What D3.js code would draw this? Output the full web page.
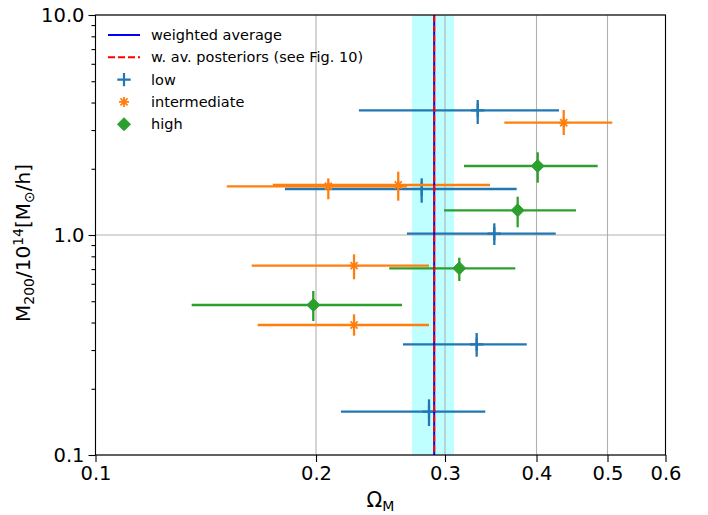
<!DOCTYPE html>
<html>
<head>
<meta charset="utf-8">
<script src="https://cdn.jsdelivr.net/npm/d3@7"></script>
<style>
  html, body { margin: 0; padding: 0; background: #fff; }
  svg { display: block; font-family: "DejaVu Sans", sans-serif; }
</style>
</head>
<body>
<svg id="chart" width="708" height="515"></svg>
<script>
// Omega_M (x) and M200 (y) estimates with asymmetric uncertainties, per richness bin
const lowOmega    = [0.3325, 0.2788, 0.3503, 0.3314, 0.2853];
const lowOmegaLo  = [0.2289, 0.1814, 0.2662, 0.2629, 0.2163];
const lowOmegaHi  = [0.4293, 0.3758, 0.4249, 0.3879, 0.3405];
const lowMass     = [3.688, 1.618, 1.014, 0.3186, 0.1573];
const lowMassLo   = [3.195, 1.402, 0.9006, 0.2798, 0.1355];
const lowMassHi   = [4.108, 1.810, 1.130, 0.3586, 0.1791];

const intOmega    = [0.4357, 0.2079, 0.2590, 0.2254, 0.2254];
const intOmegaLo  = [0.3615, 0.1511, 0.1746, 0.1634, 0.1665];
const intOmegaHi  = [0.5076, 0.2662, 0.3456, 0.2853, 0.2853];
const intMass     = [3.239, 1.665, 1.688, 0.7252, 0.3899];
const intMassLo   = [2.848, 1.453, 1.432, 0.6290, 0.3486];
const intMassHi   = [3.700, 1.810, 1.940, 0.8171, 0.4361];

const highOmega   = [0.4015, 0.3770, 0.3138, 0.1983];
const highOmegaLo = [0.3185, 0.2991, 0.2518, 0.1353];
const highOmegaHi = [0.4848, 0.4528, 0.3742, 0.2621];
const highMass    = [2.059, 1.295, 0.7057, 0.4807];
const highMassLo  = [1.729, 1.084, 0.6179, 0.4065];
const highMassHi  = [2.376, 1.493, 0.7885, 0.5565];

// weighted average of Omega_M and its 1-sigma interval
const weightedAverage = 0.290;
const weightedBand = [0.2705, 0.3086];
const posteriorAverage = 0.290;

const xTicks = [0.1, 0.2, 0.3, 0.4, 0.5, 0.6];
const yTicks = [0.1, 1.0, 10.0];
const yMinorTicks = [0.2, 0.3, 0.4, 0.5, 0.6, 0.7, 0.8, 0.9, 2, 3, 4, 5, 6, 7, 8, 9];

const legendLabels = ["weighted average", "w. av. posteriors (see Fig. 10)", "low", "intermediate", "high"];

const C = { low: "#1f77b4", intermediate: "#ff7f0e", high: "#2ca02c" };

const svg = d3.select("#chart");
const L = 95.5, R = 665.5, T = 15, B = 455;

const x = d3.scaleLog().domain([0.1, 0.6]).range([L, R]);
const y = d3.scaleLog().domain([0.1, 10]).range([B, T]);

// shaded 1-sigma band
svg.append("rect")
  .attr("x", x(weightedBand[0])).attr("y", T)
  .attr("width", x(weightedBand[1]) - x(weightedBand[0]))
  .attr("height", B - T)
  .attr("fill", "#00ffff").attr("fill-opacity", 0.25);

// grid
const grid = svg.append("g").attr("stroke", "#b0b0b0").attr("stroke-width", 1.1);
xTicks.forEach(t => grid.append("line").attr("x1", x(t)).attr("x2", x(t)).attr("y1", T).attr("y2", B));
yTicks.forEach(t => grid.append("line").attr("x1", L).attr("x2", R).attr("y1", y(t)).attr("y2", y(t)));

// markers
function drawMarker(g, kind, cx, cy, color) {
  if (kind === "plus") {
    const s = 6.7;
    g.append("path").attr("d", `M${cx - s},${cy}H${cx + s}M${cx},${cy - s}V${cy + s}`)
      .attr("stroke", color).attr("stroke-width", 2.2).attr("fill", "none");
  } else if (kind === "star") {
    const s = 5;
    let d = "";
    for (let k = 0; k < 4; k++) {
      const a = k * Math.PI / 4;
      const dx = s * Math.cos(a), dy = s * Math.sin(a);
      d += `M${cx - dx},${cy - dy}L${cx + dx},${cy + dy}`;
    }
    g.append("path").attr("d", d).attr("stroke", color).attr("stroke-width", 1.8).attr("fill", "none");
  } else {
    const s = 6.5;
    g.append("path").attr("d", `M${cx},${cy - s}L${cx + s},${cy}L${cx},${cy + s}L${cx - s},${cy}Z`)
      .attr("fill", color).attr("stroke", color).attr("stroke-width", 1);
  }
}

function drawSeries(om, omLo, omHi, m, mLo, mHi, color, kind) {
  const g = svg.append("g");
  om.forEach((v, i) => {
    g.append("line").attr("x1", x(omLo[i])).attr("x2", x(omHi[i]))
      .attr("y1", y(m[i])).attr("y2", y(m[i]))
      .attr("stroke", color).attr("stroke-width", 2.3);
    g.append("line").attr("x1", x(v)).attr("x2", x(v))
      .attr("y1", y(mLo[i])).attr("y2", y(mHi[i]))
      .attr("stroke", color).attr("stroke-width", 2.3);
    drawMarker(g, kind, x(v), y(m[i]), color);
  });
}

drawSeries(lowOmega, lowOmegaLo, lowOmegaHi, lowMass, lowMassLo, lowMassHi, C.low, "plus");
drawSeries(intOmega, intOmegaLo, intOmegaHi, intMass, intMassLo, intMassHi, C.intermediate, "star");
drawSeries(highOmega, highOmegaLo, highOmegaHi, highMass, highMassLo, highMassHi, C.high, "diamond");

// averages
svg.append("line").attr("x1", x(weightedAverage)).attr("x2", x(weightedAverage))
  .attr("y1", T).attr("y2", B).attr("stroke", "#0000ff").attr("stroke-width", 2);
svg.append("line").attr("x1", x(posteriorAverage)).attr("x2", x(posteriorAverage))
  .attr("y1", T).attr("y2", B).attr("stroke", "#ff0000").attr("stroke-width", 2)
  .attr("stroke-dasharray", "7,3");

// axes
const fmt = d3.format(".1f");
const xAxis = svg.append("g").attr("transform", `translate(0,${B})`)
  .call(d3.axisBottom(x).tickValues(xTicks).tickFormat(fmt).tickSize(7).tickPadding(4).tickSizeOuter(0));
const yAxis = svg.append("g").attr("transform", `translate(${L},0)`)
  .call(d3.axisLeft(y).tickValues(yTicks).tickFormat(fmt).tickSize(7).tickPadding(4).tickSizeOuter(0));
svg.append("g").attr("transform", `translate(${L},0)`)
  .call(d3.axisLeft(y).tickValues(yMinorTicks).tickFormat("").tickSize(4).tickSizeOuter(0))
  .call(g => g.select(".domain").remove());
[xAxis, yAxis].forEach(a => {
  a.selectAll("text").attr("font-size", 19.5).attr("font-family", "DejaVu Sans").attr("fill", "#000");
});
svg.selectAll(".tick line").attr("stroke", "#000").attr("stroke-width", 1.1);
svg.selectAll(".domain").remove();

// frame
svg.append("rect").attr("x", L).attr("y", T).attr("width", R - L).attr("height", B - T)
  .attr("fill", "none").attr("stroke", "#000").attr("stroke-width", 1.1);

// axis labels
const xl = svg.append("text").attr("x", (L + R) / 2).attr("y", 507)
  .attr("text-anchor", "middle").attr("font-size", 20.5).attr("fill", "#000");
xl.append("tspan").text("Ω");
xl.append("tspan").attr("font-size", 14).attr("dy", 4).text("M");

const yl = svg.append("text").attr("transform", "translate(30,243) rotate(-90)")
  .attr("text-anchor", "middle").attr("font-size", 20).attr("fill", "#000");
yl.append("tspan").text("M");
yl.append("tspan").attr("font-size", 14).attr("dy", 4).text("200");
yl.append("tspan").attr("dy", -4).text("/10");
yl.append("tspan").attr("font-size", 14).attr("dy", -7).text("14");
yl.append("tspan").attr("dy", 7).text("[M");
yl.append("tspan").attr("font-size", 14).attr("dy", 4).text("⊙");
yl.append("tspan").attr("dy", -4).text("/h]");

// legend
const lg = svg.append("g").attr("font-size", 14.5).attr("fill", "#000");
const rowY = [35, 57.3, 79.6, 101.9, 124.2];
const tx = 151;
lg.append("line").attr("x1", 108).attr("x2", 140).attr("y1", rowY[0]).attr("y2", rowY[0])
  .attr("stroke", "#0000ff").attr("stroke-width", 2);
lg.append("line").attr("x1", 108).attr("x2", 140).attr("y1", rowY[1]).attr("y2", rowY[1])
  .attr("stroke", "#ff0000").attr("stroke-width", 2).attr("stroke-dasharray", "7,3");
drawMarker(lg, "plus", 124, rowY[2], C.low);
drawMarker(lg, "star", 124, rowY[3], C.intermediate);
drawMarker(lg, "diamond", 124, rowY[4], C.high);
legendLabels.forEach((t, i) => {
  lg.append("text").attr("x", tx).attr("y", rowY[i]).attr("dy", "0.35em").text(t);
});
</script>
</body>
</html>
